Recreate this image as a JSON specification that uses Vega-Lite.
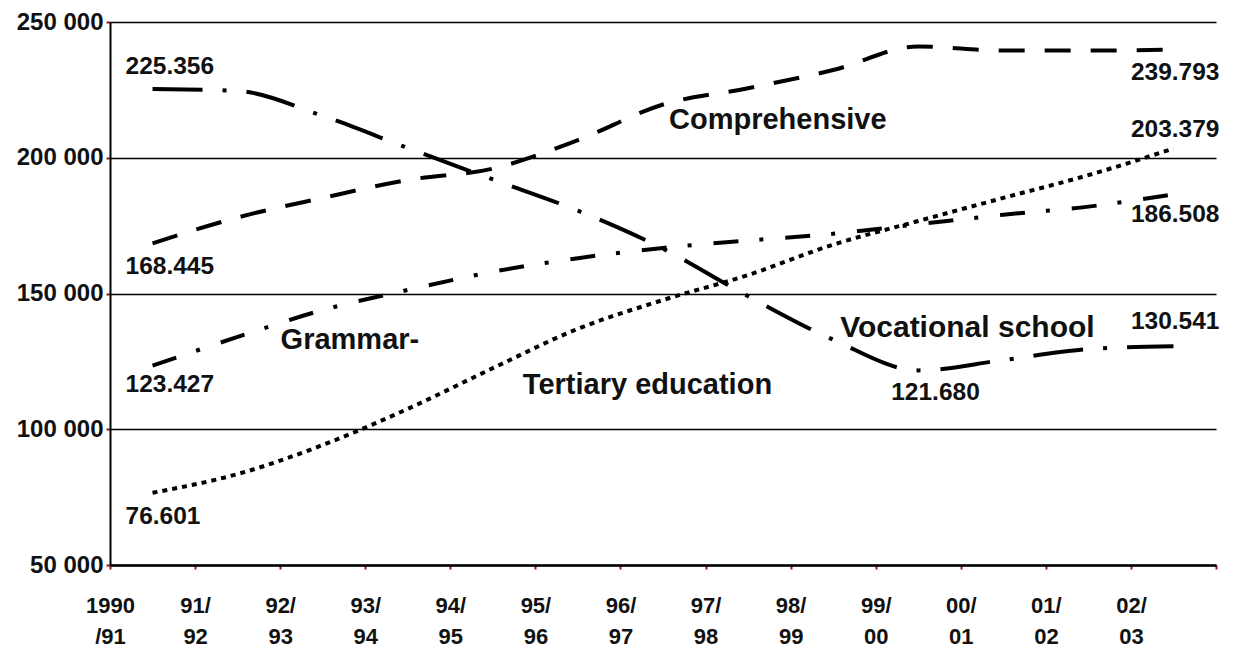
{
  "$schema": "https://vega.github.io/schema/vega-lite/v6.json",
  "width": 1106,
  "height": 543,
  "autosize": {"type": "none"},
  "padding": {"left": 110, "top": 22, "right": 22, "bottom": 86},
  "background": "white",
  "config": {
    "view": {"stroke": null},
    "text": {"font": "Liberation Sans", "fontWeight": "bold", "color": "#111111"}
  },
  "datasets": {
    "series": [
      {"year": "1990/91", "series": "Comprehensive", "value": 168445},
      {"year": "91/92", "series": "Comprehensive", "value": 178000},
      {"year": "92/93", "series": "Comprehensive", "value": 185200},
      {"year": "93/94", "series": "Comprehensive", "value": 191800},
      {"year": "94/95", "series": "Comprehensive", "value": 196000},
      {"year": "95/96", "series": "Comprehensive", "value": 206500},
      {"year": "96/97", "series": "Comprehensive", "value": 219600},
      {"year": "97/98", "series": "Comprehensive", "value": 225600},
      {"year": "98/99", "series": "Comprehensive", "value": 232300},
      {"year": "99/00", "series": "Comprehensive", "value": 241000},
      {"year": "00/01", "series": "Comprehensive", "value": 239500},
      {"year": "01/02", "series": "Comprehensive", "value": 239500},
      {"year": "02/03", "series": "Comprehensive", "value": 239793},
      {"year": "1990/91", "series": "Vocational school", "value": 225356},
      {"year": "91/92", "series": "Vocational school", "value": 224600},
      {"year": "92/93", "series": "Vocational school", "value": 215400},
      {"year": "93/94", "series": "Vocational school", "value": 203600},
      {"year": "94/95", "series": "Vocational school", "value": 192000},
      {"year": "95/96", "series": "Vocational school", "value": 180500},
      {"year": "96/97", "series": "Vocational school", "value": 166500},
      {"year": "97/98", "series": "Vocational school", "value": 149000},
      {"year": "98/99", "series": "Vocational school", "value": 133000},
      {"year": "99/00", "series": "Vocational school", "value": 121680},
      {"year": "00/01", "series": "Vocational school", "value": 125500},
      {"year": "01/02", "series": "Vocational school", "value": 129500},
      {"year": "02/03", "series": "Vocational school", "value": 130541},
      {"year": "1990/91", "series": "Grammar", "value": 123427},
      {"year": "91/92", "series": "Grammar", "value": 134000},
      {"year": "92/93", "series": "Grammar", "value": 143900},
      {"year": "93/94", "series": "Grammar", "value": 151300},
      {"year": "94/95", "series": "Grammar", "value": 158000},
      {"year": "95/96", "series": "Grammar", "value": 163000},
      {"year": "96/97", "series": "Grammar", "value": 166800},
      {"year": "97/98", "series": "Grammar", "value": 169500},
      {"year": "98/99", "series": "Grammar", "value": 172000},
      {"year": "99/00", "series": "Grammar", "value": 175500},
      {"year": "00/01", "series": "Grammar", "value": 179000},
      {"year": "01/02", "series": "Grammar", "value": 182000},
      {"year": "02/03", "series": "Grammar", "value": 186508},
      {"year": "1990/91", "series": "Tertiary education", "value": 76601},
      {"year": "91/92", "series": "Tertiary education", "value": 83500},
      {"year": "92/93", "series": "Tertiary education", "value": 94200},
      {"year": "93/94", "series": "Tertiary education", "value": 107500},
      {"year": "94/95", "series": "Tertiary education", "value": 122500},
      {"year": "95/96", "series": "Tertiary education", "value": 137000},
      {"year": "96/97", "series": "Tertiary education", "value": 147600},
      {"year": "97/98", "series": "Tertiary education", "value": 156800},
      {"year": "98/99", "series": "Tertiary education", "value": 168000},
      {"year": "99/00", "series": "Tertiary education", "value": 176700},
      {"year": "00/01", "series": "Tertiary education", "value": 185200},
      {"year": "01/02", "series": "Tertiary education", "value": 193600},
      {"year": "02/03", "series": "Tertiary education", "value": 203379}
    ],
    "startLabels": [
      {"year": "1990/91", "value": 233400, "text": "225.356"},
      {"year": "1990/91", "value": 159800, "text": "168.445"},
      {"year": "1990/91", "value": 116300, "text": "123.427"},
      {"year": "1990/91", "value": 67700, "text": "76.601"},
      {"year": "99/00", "value": 113300, "text": "121.680"}
    ],
    "endLabels": [
      {"year": "02/03", "value": 231200, "text": "239.793"},
      {"year": "02/03", "value": 210200, "text": "203.379"},
      {"year": "02/03", "value": 178900, "text": "186.508"},
      {"year": "02/03", "value": 139500, "text": "130.541"}
    ]
  },
  "encoding": {
    "x": {
      "field": "year", "type": "nominal", "bandPosition": 0.5,
      "scale": {"type": "band", "paddingInner": 0, "paddingOuter": 0,
        "domain": ["1990/91", "91/92", "92/93", "93/94", "94/95", "95/96", "96/97", "97/98", "98/99", "99/00", "00/01", "01/02", "02/03"]},
      "axis": {
        "title": null, "labelAngle": 0, "tickBand": "extent", "labelOffset": -42.5,
        "labelExpr": "datum.label == '1990/91' ? ['1990', '/91'] : [slice(datum.label, 0, 3), slice(datum.label, 3)]",
        "labelFont": "Liberation Sans", "labelFontWeight": "bold", "labelFontSize": 22,
        "labelColor": "#111111", "labelLineHeight": 31, "labelBaseline": "top", "labelPadding": 26,
        "tickSize": 4, "tickColor": "#8b1a1a", "tickWidth": 2,
        "domainColor": "#000000", "domainWidth": 2.5, "grid": false
      }
    },
    "y": {
      "field": "value", "type": "quantitative",
      "scale": {"domain": [50000, 250000], "nice": false, "zero": false},
      "axis": {
        "title": null, "values": [50000, 100000, 150000, 200000, 250000],
        "labelExpr": "replace(format(datum.value, ',d'), ',', ' ')",
        "labelFont": "Liberation Sans", "labelFontWeight": "bold", "labelFontSize": 24,
        "labelColor": "#111111", "labelPadding": 3,
        "tickSize": 4, "tickColor": "#8b1a1a", "tickWidth": 2,
        "domainColor": "#000000", "domainWidth": 2,
        "grid": true, "gridColor": "#000000", "gridWidth": 1.5, "gridOpacity": 1
      }
    }
  },
  "layer": [
    {
      "data": {"name": "series"},
      "mark": {"type": "line", "interpolate": "monotone", "strokeWidth": 4, "strokeCap": "butt", "color": "#000000"},
      "encoding": {
        "detail": {"field": "series"},
        "strokeDash": {
          "field": "series", "type": "nominal", "legend": null,
          "scale": {
            "domain": ["Comprehensive", "Grammar", "Tertiary education", "Vocational school"],
            "range": [[26, 20], [25, 21, 4, 22], [5, 5], [50, 20, 4, 20]]
          }
        }
      }
    },
    {
      "data": {"name": "startLabels"},
      "mark": {"type": "text", "align": "left", "baseline": "middle", "dx": -27, "fontSize": 24.5},
      "encoding": {"text": {"field": "text"}}
    },
    {
      "data": {"name": "endLabels"},
      "mark": {"type": "text", "align": "right", "baseline": "middle", "dx": 46, "fontSize": 24.5},
      "encoding": {"text": {"field": "text"}}
    },
    {
      "data": {"values": [{"year": "96/97", "value": 213900, "text": "Comprehensive"}]},
      "mark": {"type": "text", "align": "left", "baseline": "middle", "dx": 6, "fontSize": 29},
      "encoding": {"text": {"field": "text"}}
    },
    {
      "data": {"values": [{"year": "91/92", "value": 132900, "text": "Grammar-"}]},
      "mark": {"type": "text", "align": "left", "baseline": "middle", "dx": 43, "fontSize": 29},
      "encoding": {"text": {"field": "text"}}
    },
    {
      "data": {"values": [{"year": "94/95", "value": 116300, "text": "Tertiary education"}]},
      "mark": {"type": "text", "align": "left", "baseline": "middle", "dx": 30, "fontSize": 29},
      "encoding": {"text": {"field": "text"}}
    },
    {
      "data": {"values": [{"year": "98/99", "value": 137300, "text": "Vocational school"}]},
      "mark": {"type": "text", "align": "left", "baseline": "middle", "dx": 7, "fontSize": 30},
      "encoding": {"text": {"field": "text"}}
    }
  ]
}
